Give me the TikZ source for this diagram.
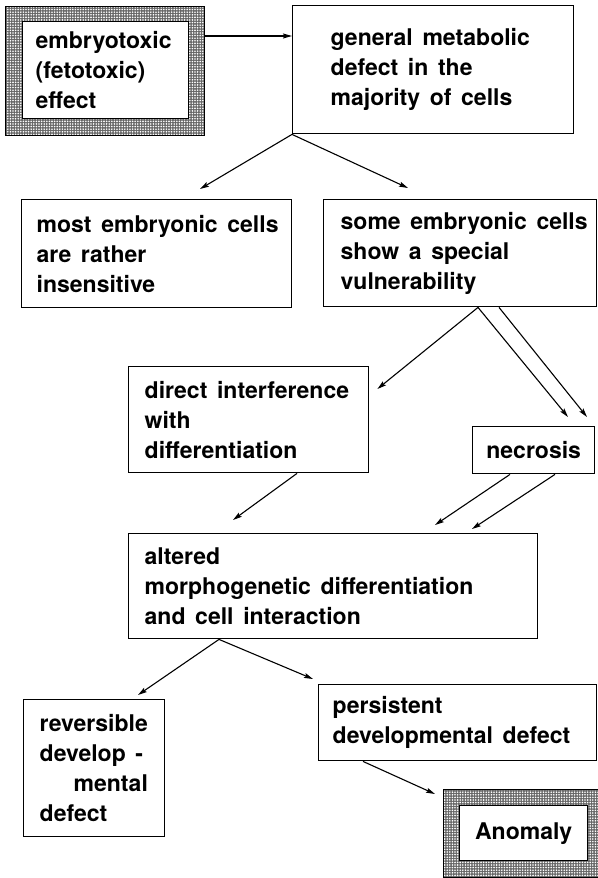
\documentclass[tikz,border=0pt]{standalone}
\usepackage{fontspec}
\setmainfont{TeX Gyre Heros}
\usetikzlibrary{arrows.meta,calc,patterns.meta}
\newcommand\widewords{\spaceskip=0.42em\relax}
\begin{document}
\begin{tikzpicture}[x=1pt,y=-1pt,
  txt/.style={font=\fontsize{23}{30}\selectfont\bfseries,
    execute at begin node=\widewords},
  box/.style={draw, line width=1.4pt, anchor=north west, align=left,
    inner ysep=0pt, fill=white, txt},
  frame/.style={draw, line width=1.2pt, anchor=north west, inner sep=0pt,
    preaction={fill=black!60},
    pattern={Dots[distance=2.6pt,radius=0.9pt]}, pattern color=white},
  arr/.style={-{Stealth[length=9pt,width=5pt,inset=1.5pt]}, line width=1.1pt}]
\useasboundingbox (0,0) rectangle (597,878);

% shaded starting frame
\node[frame, minimum width=199pt, minimum height=129pt] (Aout) at (5,6) {};
\node[box, text width=140pt, inner xsep=13pt, minimum height=97pt] (A) at (22,21)
  {embryotoxic\\(fetotoxic)\\effect};

\node[box, text width=205pt, inner xsep=38pt, minimum height=128pt] (B) at (292,5)
  {\mbox{general metabolic}\\\mbox{defect in the}\\\mbox{majority of cells}};

\node[box, text width=240pt, inner xsep=15pt, minimum height=108pt] (C) at (21,199)
  {\mbox{most embryonic cells}\\\mbox{are rather}\\insensitive};

\node[box, text width=239pt, inner xsep=17pt, minimum height=107pt] (D) at (323,199)
  {\mbox{some embryonic cells}\\\mbox{show a special}\\vulnerability};

\node[box, text width=208pt, inner xsep=16pt, minimum height=106pt] (Dir) at (128,366)
  {\mbox{direct interference}\\with\\differentiation};

\node[box, align=center, minimum width=122pt, minimum height=47pt] (N) at (472,426)
  {necrosis};

\node[box, text width=377pt, inner xsep=16pt, minimum height=105pt] (Alt) at (128,533)
  {altered\\\mbox{morphogenetic differentiation}\\\mbox{and cell interaction}};

\node[box, text width=109pt, inner xsep=16pt, minimum height=137pt] (Rev) at (23,699)
  {reversible\\\mbox{develop -}\\\hspace*{34pt}mental\\defect};

\node[box, text width=250pt, inner xsep=14pt, minimum height=76pt] (Per) at (318,684)
  {persistent\\\mbox{developmental defect}};

% shaded final frame
\node[frame, minimum width=156pt, minimum height=88pt] (Aout2) at (443,789) {};
\node[box, align=center, minimum width=128pt, minimum height=55pt] (Anom) at (459,805)
  {Anomaly};

% connectors
\coordinate (a1) at ($(Aout.north east)+(0,30)$);
\draw[arr] (a1) -- (a1 -| B.west);

\draw[arr] (B.south west) -- ($(C.north west)+(179,-10)$);
\draw[arr] (B.south west) -- ($(D.north west)+(85,-11)$);

\coordinate (d1) at ($(D.south west)+(155,0)$);
\coordinate (d2) at ($(D.south west)+(176,0)$);
\draw[arr] (d1) -- ($(Dir.north east)+(8,23)$);
\draw[arr] (d1) -- ($(N.north west)+(96,-9)$);
\draw[arr] (d2) -- ($(N.north west)+(115,-9)$);

\draw[arr] ($(Dir.south west)+(169,0)$) -- ($(Alt.north west)+(105,-13)$);
\draw[arr] ($(N.south west)+(38,0)$) -- ($(Alt.north west)+(307,-8)$);
\draw[arr] ($(N.south west)+(83,0)$) -- ($(Alt.north west)+(344,-4)$);

\coordinate (al) at ($(Alt.south west)+(91,0)$);
\draw[arr] (al) -- ($(Rev.north west)+(115,-4)$);
\draw[arr] (al) -- ($(Per.north west)+(-5,-5)$);

\draw[arr] ($(Per.south west)+(45,0)$) -- ($(Aout2.north west)+(-8,5)$);
\end{tikzpicture}
\end{document}
